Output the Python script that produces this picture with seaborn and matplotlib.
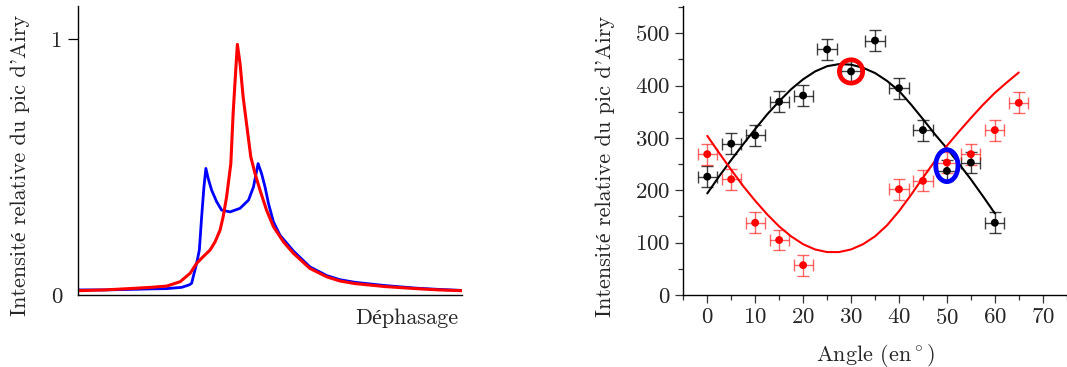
import matplotlib
matplotlib.use("Agg")
import matplotlib.pyplot as plt
import seaborn as sns
from matplotlib.patches import Ellipse
from matplotlib.ticker import MultipleLocator

# ---------------- Left panel: Airy peak profiles (arbitrary phase axis 0..100)
red_phase = [0, 7, 14.4, 19, 23.1, 26.6, 29.2, 30.9, 32.6, 34.4,
             35.7, 37.0, 37.8, 38.7, 39.8, 40.4, 41.0, 41.5, 42.2, 43.0,
             44.1, 45.0, 46.1, 47.4, 49.1, 50.9, 53.5, 56.1, 60.4, 64.8,
             68.2, 72, 80, 88, 94, 100]
red_intensity = [0.017, 0.02, 0.026, 0.03, 0.035, 0.052, 0.085, 0.124, 0.15, 0.176,
                 0.208, 0.254, 0.306, 0.384, 0.514, 0.71, 0.86, 0.98, 0.905, 0.775,
                 0.645, 0.54, 0.475, 0.41, 0.332, 0.267, 0.208, 0.163, 0.104, 0.071,
                 0.055, 0.045, 0.033, 0.025, 0.02, 0.017]
blue_phase = [0, 7, 14, 19, 23, 27, 29, 29.6, 30.0, 30.9,
              31.6, 32.2, 32.8, 33.3, 33.9, 34.8, 36.1, 37.4, 39.6, 42.2,
              44.4, 45.7, 46.9, 47.8, 48.7, 49.6, 50.9, 52.6, 56.1, 60.4,
              64.8, 68.2, 72, 80, 88, 94, 100]
blue_intensity = [0.02, 0.02, 0.022, 0.024, 0.025, 0.03, 0.04, 0.046, 0.071, 0.124,
                  0.176, 0.306, 0.423, 0.495, 0.456, 0.41, 0.365, 0.332, 0.325, 0.339,
                  0.371, 0.423, 0.514, 0.475, 0.423, 0.358, 0.286, 0.234, 0.172, 0.11,
                  0.076, 0.06, 0.05, 0.037, 0.027, 0.022, 0.018]
left_yticks = [0, 1]
left_yticklabels = ["0", "1"]

# ---------------- Right panel: intensity vs angle
angle_black = [0, 5, 10, 15, 20, 25, 30, 35, 40, 45, 50, 55, 60]
value_black = [226, 289, 305, 369, 381, 469, 427, 486, 395, 315, 237, 253, 138]
angle_red = [0, 5, 10, 15, 20, 40, 45, 50, 55, 60, 65]
value_red = [269, 221, 138, 105, 57, 202, 218, 253, 269, 315, 367]
angle_err = 2.0
value_err = 20

fit_black_angle = [0, 2.5, 5, 7.5, 10, 12.5, 15, 17.5, 20, 22.5, 25, 27.5, 30,
                   32.5, 35, 37.5, 40, 42.5, 45, 47.5, 50, 52.5, 55, 57.5, 60]
fit_black_value = [194, 227, 258, 288, 317, 345, 370, 393, 412, 427, 437, 441, 440,
                   434, 424, 409, 390, 364, 336, 307, 280, 251, 221, 189, 156]
fit_red_angle = [0, 2.5, 5, 7.5, 10, 12.5, 15, 17.5, 20, 22.5, 25, 27.5, 30,
                 32.5, 35, 37.5, 40, 42.5, 45, 47.5, 50, 52.5, 55, 57.5, 60, 62.5, 65]
fit_red_value = [304, 271, 239, 208, 180, 154, 131, 112, 97, 87, 82, 82, 87,
                 97, 112, 133, 160, 191, 224, 256, 285, 312, 338, 363, 386, 406, 425]

highlight_angle = [30, 50]
highlight_value = [427, 247]
highlight_color = ["#ff0000", "#0000ff"]

# ---------------- Style
sns.set_theme(style="ticks")
plt.rcParams["font.family"] = ["cmr10", "Liberation Serif", "DejaVu Serif"]
plt.rcParams["mathtext.fontset"] = "cm"
plt.rcParams["axes.formatter.use_mathtext"] = True
plt.rcParams["axes.unicode_minus"] = False
FS_LABEL = 16
FS_TICK = 16.5

fig = plt.figure(figsize=(10.67, 3.67), dpi=100)
W, H = 1067.0, 367.0

ylabel_text = "Intensité relative du pic d'Airy"

# ---------------- Left axes
axL = fig.add_axes([78 / W, (H - 302.7) / H, 384 / W, 296.7 / H])
sns.lineplot(x=blue_phase, y=blue_intensity, ax=axL, color="#0000ff", lw=2.0)
sns.lineplot(x=red_phase, y=red_intensity, ax=axL, color="#ff0000", lw=2.2)
axL.set_xlim(0, 100)
axL.set_ylim(-0.03, 1.13)
axL.spines["top"].set_visible(False)
axL.spines["right"].set_visible(False)
axL.spines["bottom"].set_position(("data", 0))
axL.spines["left"].set_bounds(0, 1.13)
for s in ("left", "bottom"):
    axL.spines[s].set_linewidth(1.0)
    axL.spines[s].set_color("black")
axL.set_xticks([])
axL.set_yticks(left_yticks)
axL.set_yticklabels(left_yticklabels)
axL.tick_params(axis="y", direction="out", length=7, width=0.9, color="black",
                labelsize=FS_TICK, pad=4)
axL.yaxis.get_major_ticks()[0].tick1line.set_visible(False)
axL.set_ylabel(ylabel_text, fontsize=FS_LABEL)
axL.yaxis.set_label_coords(-0.151, 0.461)
axL.yaxis.label.set_verticalalignment("center")
axL.set_xlabel("Déphasage", fontsize=FS_LABEL, loc="right")
axL.xaxis.set_label_coords(0.99, -0.02)
axL.xaxis.label.set_verticalalignment("top")
axL.patch.set_alpha(0)

# ---------------- Right axes
axR = fig.add_axes([683.3 / W, 72 / H, 383.4 / W, 289 / H])
sns.lineplot(x=fit_black_angle, y=fit_black_value, ax=axR, color="black", lw=1.5)
sns.lineplot(x=fit_red_angle, y=fit_red_value, ax=axR, color="#ff0000", lw=1.5)

axR.errorbar(angle_black, value_black, xerr=angle_err, yerr=value_err, fmt="none",
             ecolor=(0, 0, 0, 0.75), elinewidth=1.0, capsize=4.5, capthick=1.0, zorder=3)
axR.errorbar(angle_red, value_red, xerr=angle_err, yerr=value_err, fmt="none",
             ecolor=(1, 0, 0, 0.6), elinewidth=1.0, capsize=4.5, capthick=1.0, zorder=3)
sns.scatterplot(x=angle_black, y=value_black, ax=axR, color="black", s=32,
                edgecolor="none", zorder=4)
sns.scatterplot(x=angle_red, y=value_red, ax=axR, color="#ff0000", s=32,
                edgecolor="none", zorder=4)

ell_size = {"#ff0000": (4.86, 44.5), "#0000ff": (4.66, 61.0)}
for hx, hy, hc in zip(highlight_angle, highlight_value, highlight_color):
    w, h = ell_size[hc]
    axR.add_patch(Ellipse((hx, hy), w, h, fill=False, ec=hc, lw=3.4, zorder=5))

axR.set_xlim(-5, 75)
axR.set_ylim(0, 552)
axR.spines["top"].set_visible(False)
axR.spines["right"].set_visible(False)
for s in ("left", "bottom"):
    axR.spines[s].set_linewidth(1.0)
    axR.spines[s].set_color("black")
axR.xaxis.set_major_locator(MultipleLocator(10))
axR.xaxis.set_minor_locator(MultipleLocator(5))
axR.yaxis.set_major_locator(MultipleLocator(100))
axR.yaxis.set_minor_locator(MultipleLocator(50))
axR.tick_params(which="major", direction="out", length=6, width=0.9,
                color="#333333", labelsize=FS_TICK, pad=3)
axR.tick_params(which="minor", direction="out", length=3.6, width=0.9, color="#333333")
axR.set_ylabel(ylabel_text, fontsize=FS_LABEL)
axR.yaxis.set_label_coords(-0.204, 0.446)
axR.yaxis.label.set_verticalalignment("center")
axR.set_xlabel(r"Angle (en$^\circ$)", fontsize=FS_LABEL)
axR.xaxis.set_label_coords(0.5, -0.162)
axR.xaxis.label.set_verticalalignment("top")
axR.patch.set_alpha(0)

fig.savefig("out.png", dpi=100, facecolor="white")
